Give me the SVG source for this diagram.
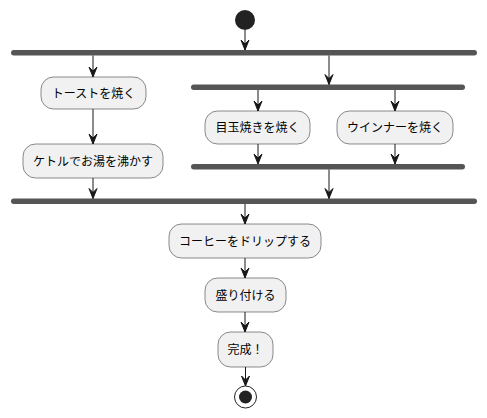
<svg xmlns="http://www.w3.org/2000/svg" width="487" height="418" viewBox="0 0 487 418">
<defs>
<style>
.act rect{fill:#F1F1F1;stroke:#181818;stroke-width:0.5}
.act text{font-family:"Noto Sans CJK JP","Noto Sans",sans-serif;font-size:12px;fill:#000;text-anchor:middle}
.bar{fill:#555555;stroke:none}
.edge line{stroke:#181818;stroke-width:1}
.edge polygon{fill:#181818;stroke:#181818;stroke-width:1}
</style>
</defs>
<rect width="487" height="418" fill="#FFFFFF"/>
<g id="start"><circle cx="245" cy="20" r="10" fill="#222222"/></g>
<g id="fork1"><rect class="bar" x="11" y="50" width="466" height="5.5" rx="2.75"/></g>
<g id="fork2"><rect class="bar" x="191" y="84.5" width="274" height="5.5" rx="2.75"/></g>
<g id="join2"><rect class="bar" x="191" y="164" width="274" height="5.5" rx="2.75"/></g>
<g id="join1"><rect class="bar" x="11" y="198.5" width="466" height="5.5" rx="2.75"/></g>
<g id="toast" class="act"><rect x="41" y="77" width="105" height="32" rx="12.5"/><text x="93.5" y="97.5">トーストを焼く</text></g>
<g id="kettle" class="act"><rect x="23" y="144" width="140" height="34" rx="12.5"/><text x="93" y="165.5">ケトルでお湯を沸かす</text></g>
<g id="egg" class="act"><rect x="205" y="111" width="105" height="33" rx="12.5"/><text x="257.5" y="131.5">目玉焼きを焼く</text></g>
<g id="wiener" class="act"><rect x="337" y="111" width="116" height="33" rx="12.5"/><text x="395" y="131.5">ウインナーを焼く</text></g>
<g id="coffee" class="act"><rect x="169" y="224" width="152" height="34" rx="12.5"/><text x="245" y="245.5">コーヒーをドリップする</text></g>
<g id="serve" class="act"><rect x="205" y="278" width="81" height="34" rx="12.5"/><text x="245.5" y="299.5">盛り付ける</text></g>
<g id="done" class="act"><rect x="218" y="332" width="55" height="35" rx="12.5"/><text x="245.5" y="354">完成！</text></g>
<g id="end"><circle cx="245.5" cy="397" r="11" fill="none" stroke="#222222" stroke-width="1"/><circle cx="245.5" cy="397" r="6.5" fill="#222222"/></g>
<g id="connectors" class="edge">
<line x1="245" y1="30" x2="245" y2="50"/><polygon points="241,40 245,50 249,40 245,44"/>
<line x1="93" y1="55.5" x2="93" y2="77"/><polygon points="89,67 93,77 97,67 93,71"/>
<line x1="329" y1="55.5" x2="329" y2="84.5"/><polygon points="325,74.5 329,84.5 333,74.5 329,78.5"/>
<line x1="258" y1="90" x2="258" y2="111"/><polygon points="254,101 258,111 262,101 258,105"/>
<line x1="395" y1="90" x2="395" y2="111"/><polygon points="391,101 395,111 399,101 395,105"/>
<line x1="93" y1="109" x2="93" y2="144"/><polygon points="89,134 93,144 97,134 93,138"/>
<line x1="258" y1="144" x2="258" y2="164"/><polygon points="254,154 258,164 262,154 258,158"/>
<line x1="395" y1="144" x2="395" y2="164"/><polygon points="391,154 395,164 399,154 395,158"/>
<line x1="329" y1="169.5" x2="329" y2="198.5"/><polygon points="325,188.5 329,198.5 333,188.5 329,192.5"/>
<line x1="93" y1="178" x2="93" y2="198.5"/><polygon points="89,188.5 93,198.5 97,188.5 93,192.5"/>
<line x1="245" y1="204" x2="245" y2="224"/><polygon points="241,214 245,224 249,214 245,218"/>
<line x1="245" y1="258" x2="245" y2="278"/><polygon points="241,268 245,278 249,268 245,272"/>
<line x1="245" y1="312" x2="245" y2="332"/><polygon points="241,322 245,332 249,322 245,326"/>
<line x1="245.5" y1="367" x2="245.5" y2="386"/><polygon points="241.5,376 245.5,386 249.5,376 245.5,380"/>
</g>
</svg>
